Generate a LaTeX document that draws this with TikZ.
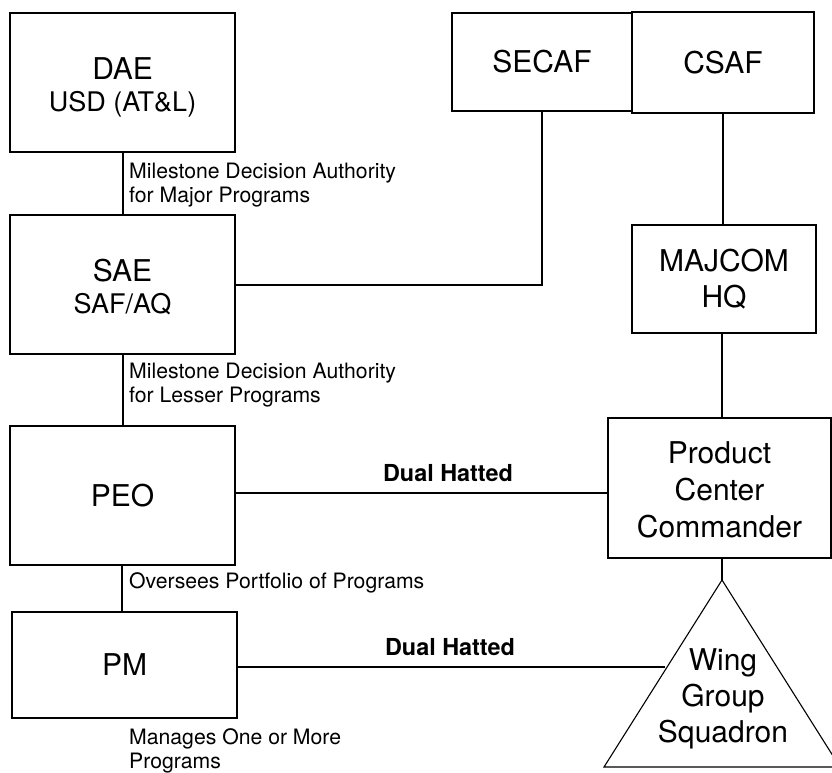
\documentclass[tikz,border=0pt]{standalone}
\usepackage{fontspec}
\setmainfont{TeX Gyre Heros}
\begin{document}
\begin{tikzpicture}[x=1pt,y=-1pt,
  orgbox/.style={draw, line width=1.4pt, inner sep=0pt, align=center, font=\fontsize{30}{36}\selectfont},
  conn/.style={line width=2pt},
  lbl/.style={inner sep=0pt, align=left, anchor=west, font=\fontsize{21.2}{24}\selectfont},
  dual/.style={inner sep=0pt, font=\fontsize{23.4}{28}\selectfont\bfseries}]
\useasboundingbox (0,0) rectangle (832,772);
\node[orgbox, minimum width=225pt, minimum height=139pt] (dae) at (122.5,82.5)
  {\rule{0pt}{32.5pt}DAE\\[-4pt]{\fontsize{27}{30}\selectfont USD (AT\&L)}};
\node[orgbox, minimum width=180pt, minimum height=98pt] (secaf) at (542,62) {SECAF};
\node[orgbox, minimum width=182pt, minimum height=101pt] (csaf) at (723,62.5) {CSAF};
\node[orgbox, minimum width=225pt, minimum height=139pt] (sae) at (122.5,284.5)
  {\rule{0pt}{26.5pt}SAE\\[-4pt]{\fontsize{27}{30}\selectfont SAF/AQ}};
\node[orgbox, minimum width=184pt, minimum height=108pt] (majcom) at (724,279) {MAJCOM\\HQ};
\node[orgbox, minimum width=225pt, minimum height=139pt] (peo) at (122.5,495.5) {PEO};
\node[orgbox, minimum width=223pt, minimum height=140pt, font=\fontsize{30}{37}\selectfont] (pcc) at (719.5,488) {\rule{0pt}{25pt}Product\\Center\\Commander};
\node[orgbox, minimum width=225pt, minimum height=106pt] (pm) at (124.5,665) {PM};
% triangle
\coordinate (apex) at (722,580);
\coordinate (tl) at (604,767);
\coordinate (tr) at (840,767);
\draw[line width=1.1pt] (apex) -- (tl) -- (tr) -- cycle;
\node[inner sep=0pt, align=center, font=\fontsize{30}{36}\selectfont] (wing) at (723,699) {Wing\\Group\\Squadron};
\coordinate (pmend) at (665,667);
% connectors
\draw[conn] (dae.south) -- (sae.north);
\draw[conn] (sae.east) -| (secaf.south);
\draw[conn] (csaf.south) -- (csaf.south |- majcom.north);
\draw[conn] (majcom.south -| apex) -- (pcc.north -| apex);
\draw[conn] (pcc.south -| apex) -- (apex);
\draw[conn] (peo.east |- 0,493) -- (pcc.west |- 0,493);
\draw[conn] (sae.south) -- (peo.north);
\draw[conn] (peo.south -| 122,0) -- (122,612);
\draw[conn] (pm.east |- pmend) -- (pmend);
% labels
\node[lbl] (l1) at (129,185) {Milestone Decision Authority\\for Major Programs};
\node[lbl] (l2) at (129,385) {Milestone Decision Authority\\for Lesser Programs};
\node[lbl] (l3) at (129,583) {Oversees Portfolio of Programs};
\node[lbl] (l4) at (129,751) {Manages One or More\\Programs};
\node[dual] (d1) at (448,473) {Dual Hatted};
\node[dual] (d2) at (450,647) {Dual Hatted};
\end{tikzpicture}
\end{document}
